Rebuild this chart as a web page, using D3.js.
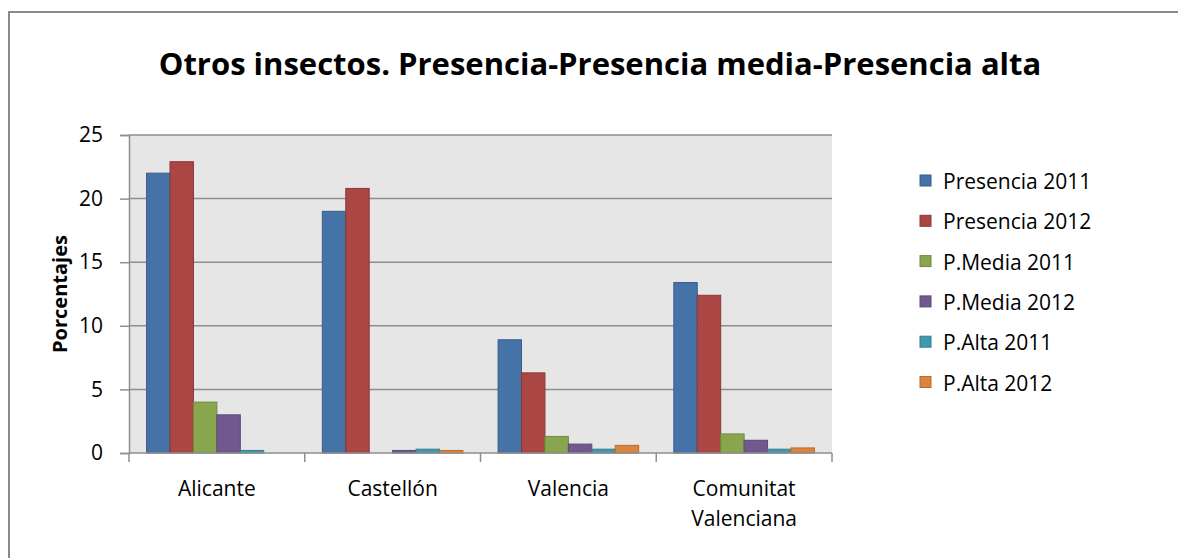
<!DOCTYPE html>
<html>
<head>
<meta charset="utf-8">
<script src="https://cdn.jsdelivr.net/npm/d3@7"></script>
<style>
  body { margin: 0; background: #fff; }
  text { font-family: "Open Sans", "Noto Sans", sans-serif; fill: #000; }
</style>
</head>
<body>
<svg id="chart" width="1178" height="558"></svg>
<script>
const categories = ['Alicante', 'Castellón', 'Valencia', 'Comunitat Valenciana'];
const seriesNames = ['Presencia 2011', 'Presencia 2012', 'P.Media 2011', 'P.Media 2012', 'P.Alta 2011', 'P.Alta 2012'];
const presencia2011 = [22.0, 19.0, 8.9, 13.4];
const presencia2012 = [22.9, 20.8, 6.3, 12.4];
const media2011 = [4.0, 0.0, 1.3, 1.5];
const media2012 = [3.0, 0.2, 0.7, 1.0];
const alta2011 = [0.2, 0.3, 0.3, 0.3];
const alta2012 = [0.0, 0.2, 0.6, 0.4];
const yTicks = [0, 5, 10, 15, 20, 25];

const seriesValues = [presencia2011, presencia2012, media2011, media2012, alta2011, alta2012];
const fills = ['#4572a7', '#aa4643', '#89a54e', '#71588f', '#4198af', '#db843d'];
const strokes = ['#385d8a', '#8c3836', '#71893f', '#5c4776', '#357d91', '#b66d31'];

const svg = d3.select('#chart');
const margin = {top: 135, left: 129, right: 346, bottom: 105};
const width = 1178 - margin.left - margin.right;
const height = 558 - margin.top - margin.bottom;

// chart frame
svg.append('rect')
    .attr('x', 9).attr('y', 12)
    .attr('width', 1200).attr('height', 600)
    .attr('fill', 'none')
    .attr('stroke', '#8a8a8a')
    .attr('stroke-width', 2);

svg.append('text')
    .attr('x', 600).attr('y', 75)
    .attr('text-anchor', 'middle')
    .attr('font-size', 31)
    .attr('font-weight', 'bold')
    .text('Otros insectos. Presencia-Presencia media-Presencia alta');

const g = svg.append('g').attr('transform', `translate(${margin.left},${margin.top})`);

const x0 = d3.scaleBand().domain(categories).range([0, width]).paddingInner(0.2).paddingOuter(0.1);
const x1 = d3.scaleBand().domain(seriesNames).range([0, x0.bandwidth()]);
const y = d3.scaleLinear().domain([0, 25]).range([height, 0]);

g.append('rect').attr('width', width).attr('height', height).attr('fill', '#e6e6e6');

// gridlines
g.append('g').selectAll('line').data(yTicks.filter(d => d > 0)).enter()
    .append('line')
    .attr('x1', 0).attr('x2', width)
    .attr('y1', d => y(d)).attr('y2', d => y(d))
    .attr('stroke', '#8e8e8e').attr('stroke-width', 1.5);

// y axis
const yAxis = d3.axisLeft(y).tickValues(yTicks).tickSize(9).tickPadding(17);
const yAxisGroup = g.append('g').call(yAxis);
yAxisGroup.select('.domain').attr('stroke', '#8e8e8e').attr('stroke-width', 1.5);
yAxisGroup.selectAll('.tick line').attr('stroke', '#8e8e8e').attr('stroke-width', 1.5);
yAxisGroup.selectAll('.tick text').attr('font-size', 21).attr('font-family', '"Open Sans", sans-serif').attr('fill', '#1a1a1a');

// bars
const groups = g.append('g').selectAll('g').data(categories).enter()
    .append('g')
    .attr('transform', d => `translate(${x0(d)},0)`);

groups.selectAll('rect')
    .data((d, i) => seriesNames.map((s, j) => ({series: s, j: j, value: seriesValues[j][i]})))
    .enter()
    .filter(d => d.value > 0)
    .append('rect')
    .attr('x', d => x1(d.series))
    .attr('y', d => y(d.value))
    .attr('width', x1.bandwidth())
    .attr('height', d => height - y(d.value))
    .attr('fill', d => fills[d.j])
    .attr('stroke', d => strokes[d.j])
    .attr('stroke-width', 1);

// x axis
const xTickPos = d3.range(categories.length + 1).map(i => i * x0.step());
g.append('line')
    .attr('x1', 0).attr('x2', width)
    .attr('y1', height).attr('y2', height)
    .attr('stroke', '#8e8e8e').attr('stroke-width', 1.5);
g.append('g').selectAll('line').data(xTickPos).enter()
    .append('line')
    .attr('x1', d => d).attr('x2', d => d)
    .attr('y1', height).attr('y2', height + 9)
    .attr('stroke', '#8e8e8e').attr('stroke-width', 1.5);

const xLabels = g.append('g').selectAll('text').data(categories).enter()
    .append('text')
    .attr('x', d => x0(d) + x0.bandwidth() / 2)
    .attr('y', height + 43)
    .attr('text-anchor', 'middle')
    .attr('font-size', 21)
    .attr('fill', '#1a1a1a');
xLabels.each(function(d) {
    const words = d === 'Comunitat Valenciana' ? ['Comunitat', 'Valenciana'] : [d];
    const t = d3.select(this);
    words.forEach((w, i) => {
        t.append('tspan').attr('x', x0(d) + x0.bandwidth() / 2).attr('dy', i === 0 ? 0 : 30).text(w);
    });
});

// y axis title
svg.append('text')
    .attr('transform', `translate(67,${margin.top + height / 2}) rotate(-90)`)
    .attr('text-anchor', 'middle')
    .attr('font-size', 20)
    .attr('font-weight', 'bold')
    .text('Porcentajes');

// legend
const legend = svg.append('g').attr('transform', 'translate(920,181)');
const rows = legend.selectAll('g').data(seriesNames).enter()
    .append('g')
    .attr('transform', (d, i) => `translate(0,${i * 40.3})`);
rows.append('rect')
    .attr('x', 0).attr('y', -6)
    .attr('width', 11).attr('height', 11)
    .attr('fill', (d, i) => fills[i])
    .attr('stroke', (d, i) => strokes[i]);
rows.append('text')
    .attr('x', 23).attr('y', 8)
    .attr('font-size', 21)
    .attr('fill', '#1a1a1a')
    .text(d => d);
</script>
</body>
</html>
